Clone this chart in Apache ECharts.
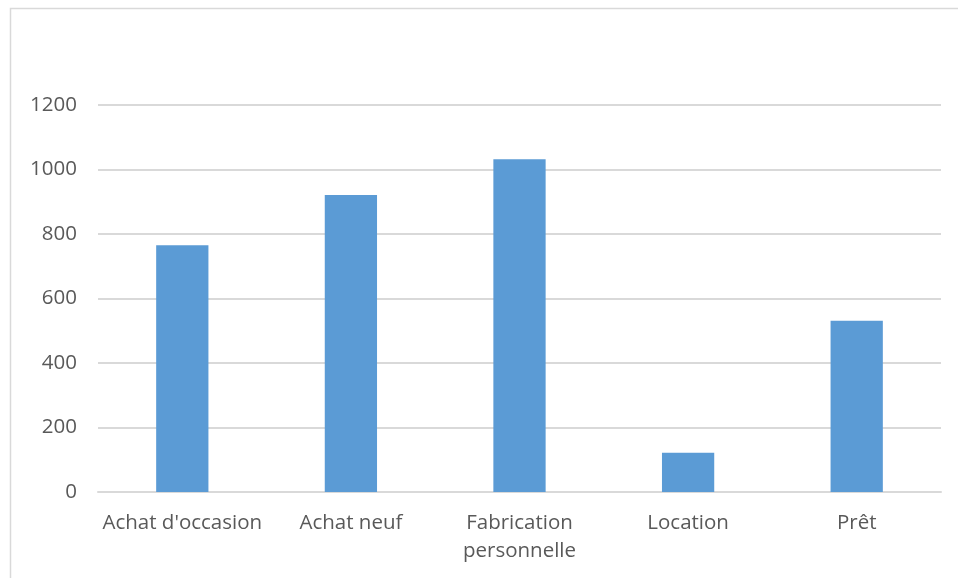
<!DOCTYPE html>
<html>
<head>
<meta charset="utf-8">
<script src="https://cdn.jsdelivr.net/npm/echarts@6/dist/echarts.min.js"></script>
<style>
  html, body { margin: 0; padding: 0; background: #ffffff; }
  #chart { width: 958px; height: 578px; }
</style>
</head>
<body>
<div id="chart"></div>
<script>
// Mode d'acquisition
const categories = ["Achat d'occasion", "Achat neuf", "Fabrication\npersonnelle", "Location", "Prêt"];
const values = [765, 921, 1032, 122, 531];
const yTicks = [0, 200, 400, 600, 800, 1000, 1200];

const chart = echarts.init(document.getElementById('chart'), null, { renderer: 'canvas' });
const labelFont = 'Open Sans';
const labelSize = 20.5;

chart.setOption({
  animation: false,
  backgroundColor: '#ffffff',
  graphic: [{
    type: 'rect',
    left: 8, top: 6,
    shape: { width: 980, height: 600 },
    style: { fill: 'none', stroke: '#d9d9d9', lineWidth: 1.5 },
    silent: true
  }],
  grid: { left: 98, right: 17, top: 105, bottom: 86, containLabel: false },
  xAxis: {
    type: 'category',
    data: categories,
    axisLine: { show: true, lineStyle: { color: '#d9d9d9', width: 2 } },
    axisTick: { show: false },
    axisLabel: {
      color: '#595959', fontFamily: labelFont, fontSize: labelSize,
      lineHeight: 28, margin: 17, interval: 0
    },
    splitLine: { show: false }
  },
  yAxis: {
    type: 'value',
    min: yTicks[0],
    max: yTicks[yTicks.length - 1],
    interval: yTicks[1] - yTicks[0],
    axisLine: { show: false },
    axisTick: { show: false },
    axisLabel: {
      color: '#595959', fontFamily: labelFont, fontSize: labelSize, margin: 21,
      formatter: v => String(v)
    },
    splitLine: { show: true, lineStyle: { color: '#d9d9d9', width: 2 } }
  },
  series: [{
    type: 'bar',
    data: values,
    barWidth: '31%',
    itemStyle: { color: '#5b9bd5' }
  }]
});
</script>
</body>
</html>
